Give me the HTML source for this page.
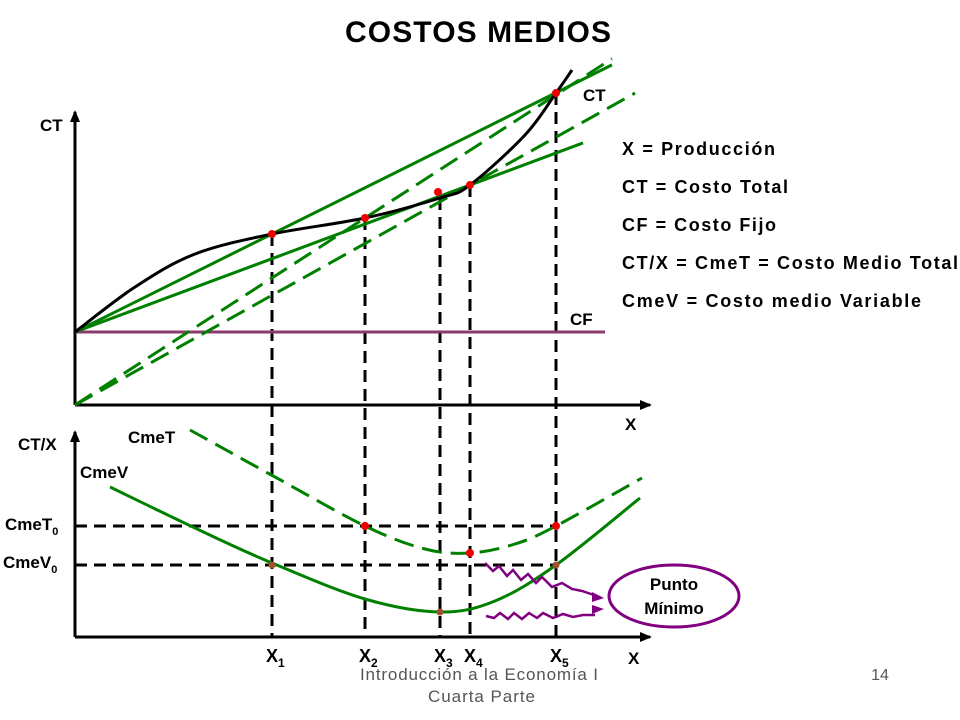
<!DOCTYPE html>
<html><head><meta charset="utf-8"><style>
body{margin:0;background:#fff;}
svg{display:block;font-family:"Liberation Sans",Arial,sans-serif;}
.b{font-weight:bold;fill:#000;}
</style></head><body>
<svg id="c" width="960" height="720" viewBox="0 0 960 720">
<text x="345" y="42" textLength="266" class="b" font-size="30">COSTOS MEDIOS</text>
<g id="topg"></g>
<g id="bot"></g>
<g font-size="18" class="b">
<text x="622" y="155" textLength="153">X = Producción</text>
<text x="622" y="193" textLength="166">CT = Costo Total</text>
<text x="622" y="231" textLength="154">CF = Costo Fijo</text>
<text x="622" y="269" textLength="336">CT/X = CmeT = Costo Medio Total</text>
<text x="622" y="307" textLength="299">CmeV = Costo medio Variable</text>
</g>
<g>
<ellipse cx="674" cy="596" rx="65" ry="31" fill="#fff" stroke="#800080" stroke-width="3"/>
<text x="674" y="590" text-anchor="middle" class="b" font-size="17">Punto</text>
<text x="674" y="614" text-anchor="middle" class="b" font-size="17">Mínimo</text>
<path d="M485,563 l8,8 l6,-5 l8,10 l6,-6 l8,10 l7,-6 l8,9 l6,-6 l10,10 l10,-4 l10,6 l10,2 l12,4" fill="none" stroke="#800080" stroke-width="2.5"/>
<path d="M592,592 l12,6 l-12,4 z" fill="#800080"/>
<path d="M486,616 l8,2 l6,-5 l8,6 l6,-6 l8,6 l7,-6 l8,5 l6,-5 l10,5 l10,-4 l10,3 l10,-2 l12,0" fill="none" stroke="#800080" stroke-width="2.5"/>
<path d="M592,605 l12,4 l-12,5 z" fill="#800080"/>
</g>
<text x="360" y="680" textLength="238" font-size="17" fill="#555">Introducción a la Economía I</text>
<text x="428" y="702" textLength="107" font-size="17" fill="#555">Cuarta Parte</text>
<text x="880" y="680" text-anchor="middle" font-size="16" fill="#555">14</text>
</svg>
<script>
// quantities X1..X5
const xLabels=["X1","X2","X3","X4","X5"];
const xVals=[197,290,365,395,481];
// total cost curve (x, CT)
const ctX=[0,60,120,197,290,365,395,450,481,497];
const ctY=[73,118,151,171,187,207,220,270,312,335];
const fixedCost=73;
// average cost curves (x, value)
const cmetX=[115,200,290,350,395,440,481,567];
const cmetY=[207,160,111,88,84,93,111,159];
const cmevX=[35,120,197,290,365,420,481,565];
const cmevY=[150,109,74,38,25,36,72,139];
const cmet0=111, cmev0=72;

const NS="http://www.w3.org/2000/svg";
const ox=75, tY0=405, bY0=637;
const sx=v=>ox+v;
const tY=v=>tY0-v;
const bY=v=>bY0-v;
function el(p,t,a){const e=document.createElementNS(NS,t);for(const k in a)e.setAttribute(k,a[k]);p.appendChild(e);return e;}
function smooth(xs,ys,fx,fy){const P=xs.map((x,i)=>[fx(x),fy(ys[i])]);let d="M"+P[0][0]+","+P[0][1];for(let i=0;i<P.length-1;i++){const p0=P[i-1]||P[i],p1=P[i],p2=P[i+1],p3=P[i+2]||p2;d+=" C"+(p1[0]+(p2[0]-p0[0])/6)+","+(p1[1]+(p2[1]-p0[1])/6)+" "+(p2[0]-(p3[0]-p1[0])/6)+","+(p2[1]-(p3[1]-p1[1])/6)+" "+p2[0]+","+p2[1];}return d;}
function interp(xs,ys,x){for(let i=0;i<xs.length-1;i++)if(x>=xs[i]&&x<=xs[i+1])return ys[i]+(ys[i+1]-ys[i])*(x-xs[i])/(xs[i+1]-xs[i]);return ys[ys.length-1];}
const topG=document.getElementById('topg'), bot=document.getElementById('bot');
const G="#008000";
function axes(g,y0,ytop,name){
 const a=el(g,'path',{d:`M${ox},${y0} V${ytop} M${ox},${y0} H650`,stroke:'#000','stroke-width':3,fill:'none'});
 
 
 el(g,'path',{d:`M${ox-5},${ytop+10} L${ox},${ytop-2} L${ox+5},${ytop+10}Z M640,${y0-5} L652,${y0} L640,${y0+5}Z`,fill:'#000'});
}
axes(topG,tY0,112,'top');axes(bot,bY0,432,'bottom');
xVals.forEach((v,i)=>{
 const yt=tY(interp(ctX,ctY,v));
 const l=el(topG,'line',{x1:sx(v),x2:sx(v),y1:yt,y2:bY0,stroke:'#000','stroke-width':3,'stroke-dasharray':'12,7'});
 
 
 const t=el(bot,'text',{x:sx(v)-6,y:662,'font-size':18,'font-weight':'bold'});
 t.textContent="X";
 
 
 const s=el(t,'tspan',{'font-size':12,dy:5});s.textContent=xLabels[i].slice(1);
});
const cf=el(topG,'line',{x1:ox,x2:605,y1:tY(fixedCost),y2:tY(fixedCost),stroke:'#8b3a6b','stroke-width':3});


function ray(fromY,xi,xe,dash,name){const yv=interp(ctX,ctY,xVals[xi]);const s=(yv-fromY)/xVals[xi];
 const l=el(topG,'line',{x1:ox,y1:tY(fromY),x2:sx(xe),y2:tY(fromY+s*xe),stroke:G,'stroke-width':3});
 if(dash)l.setAttribute('stroke-dasharray','20,9');
 
 }
ray(fixedCost,0,537,false,'cvme-ray-x1');
ray(fixedCost,3,508,false,'cvme-ray-x4');
ray(0,1,537,true,'cmet-ray-x2');
ray(0,3,560,true,'cmet-ray-x4');
const ct=el(topG,'path',{d:smooth(ctX,ctY,sx,tY),fill:'none',stroke:'#000','stroke-width':3});


xVals.forEach((v,i)=>{const c=el(topG,'circle',{cx:sx(v)+(i==2?-2:0),cy:tY(interp(ctX,ctY,v))-(i==2?6:0),r:4,fill:'#e00'});
 
 });
[[cmet0,'cmet0-guide'],[cmev0,'cmev0-guide']].forEach(([v,n])=>{const l=el(bot,'line',{x1:ox,x2:sx(xVals[4]),y1:bY(v),y2:bY(v),stroke:'#000','stroke-width':3,'stroke-dasharray':'12,7'});
 
 });
const cmet=el(bot,'path',{d:smooth(cmetX,cmetY,sx,bY),fill:'none',stroke:G,'stroke-width':3,'stroke-dasharray':'20,9'});


const cmev=el(bot,'path',{d:smooth(cmevX,cmevY,sx,bY),fill:'none',stroke:G,'stroke-width':3});


[[1,cmet0],[4,cmet0],[3,interp(cmetX,cmetY,xVals[3])]].forEach(([i,v])=>{const c=el(bot,'circle',{cx:sx(xVals[i]),cy:bY(v),r:4,fill:'#e00'});
 
 });
[[0,cmev0],[4,cmev0],[2,interp(cmevX,cmevY,xVals[2])]].forEach(([i,v])=>{const c=el(bot,'circle',{cx:sx(xVals[i]),cy:bY(v),r:3.5,fill:'#a0522d'});
 
 });
function lab(x,y,txt,sub,name){const t=el(document.getElementById('c'),'text',{x:x,y:y,'font-size':17,'font-weight':'bold'});t.textContent=txt;
 if(sub){const s=el(t,'tspan',{'font-size':11,dy:5});s.textContent=sub;}
 
 }
lab(40,131,"CT","","top-y-axis-title");
lab(583,101,"CT","","ct-label");
lab(570,325,"CF","","cf-label");
lab(625,430,"X","","top-x-axis-title");
lab(18,450,"CT/X","","bottom-y-axis-title");
lab(128,443,"CmeT","","cmet-label");
lab(80,478,"CmeV","","cmev-label");
lab(5,530,"CmeT","0","cmet0-label");
lab(3,568,"CmeV","0","cmev0-label");
lab(628,664,"X","","bottom-x-axis-title");
</script>
</body></html>
